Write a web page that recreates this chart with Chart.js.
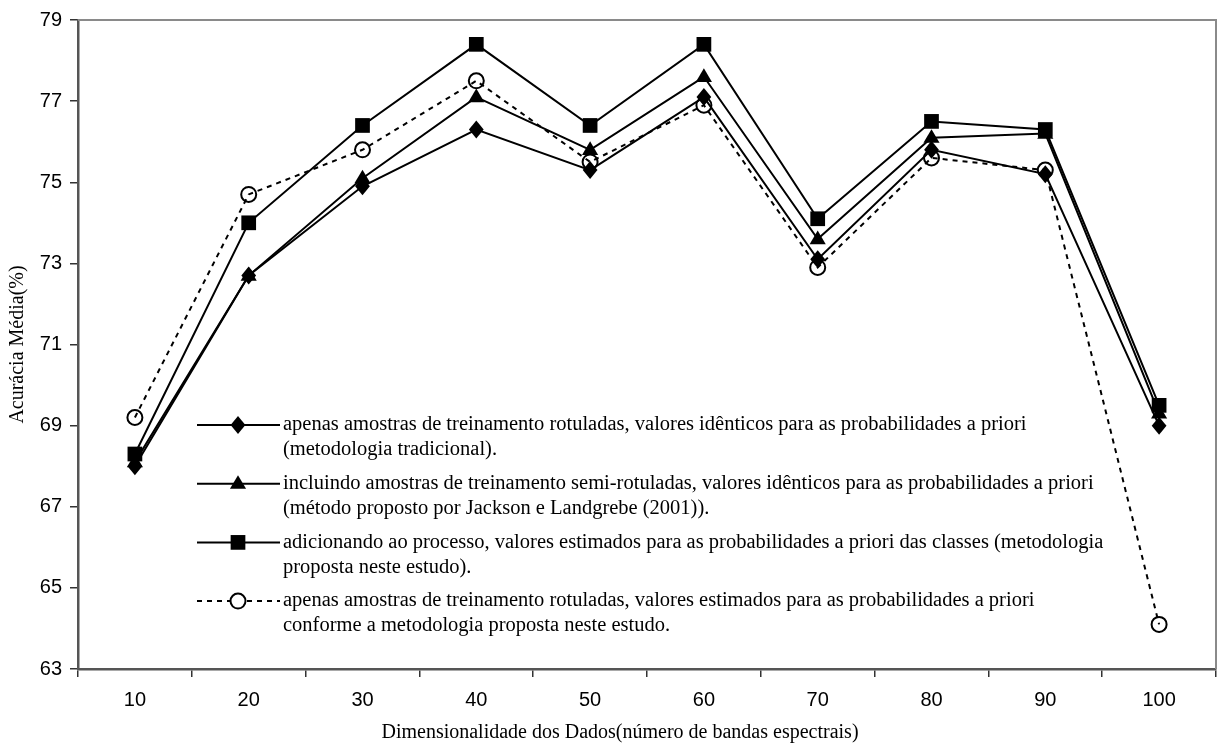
<!DOCTYPE html>
<html>
<head>
<meta charset="utf-8">
<script src="https://cdn.jsdelivr.net/npm/chart.js@4"></script>
<style>
  html, body { margin: 0; padding: 0; background: #fff; }
  #wrap { width: 1225px; height: 748px; }
</style>
</head>
<body>
<div id="wrap"><canvas id="c" width="1225" height="748"></canvas></div>
<script>
const categories = ['10', '20', '30', '40', '50', '60', '70', '80', '90', '100'];
const yTicks = [63, 65, 67, 69, 71, 73, 75, 77, 79];

const tradicional = [68.0, 72.7, 74.9, 76.3, 75.3, 77.1, 73.1, 75.8, 75.2, 69.0];
const semiRotuladas = [68.1, 72.7, 75.1, 77.1, 75.8, 77.6, 73.6, 76.1, 76.2, 69.3];
const estimadosSemi = [68.3, 74.0, 76.4, 78.4, 76.4, 78.4, 74.1, 76.5, 76.3, 69.5];
const estimadosRotuladas = [69.2, 74.7, 75.8, 77.5, 75.5, 76.9, 72.9, 75.6, 75.3, 64.1];

const legendTexts = [
  ['apenas amostras de treinamento rotuladas, valores idênticos para as probabilidades a priori',
   '(metodologia tradicional).'],
  ['incluindo amostras de treinamento semi-rotuladas, valores idênticos para as probabilidades a priori',
   '(método proposto por Jackson e Landgrebe (2001)).'],
  ['adicionando ao processo, valores estimados para as probabilidades a priori das classes (metodologia',
   'proposta neste estudo).'],
  ['apenas amostras de treinamento rotuladas, valores estimados para as probabilidades a priori',
   'conforme a metodologia proposta neste estudo.']
];

const xTitle = 'Dimensionalidade dos Dados(número de bandas espectrais)';
const yTitle = 'Acurácia Média(%)';

const serif = '"Liberation Serif", "Times New Roman", serif';
const sans = '"Liberation Sans", Arial, sans-serif';

function drawMarker(ctx, style, x, y, r, fill) {
  ctx.beginPath();
  if (style === 'rectRot') {
    ctx.moveTo(x - r * 0.82, y); ctx.lineTo(x, y - r); ctx.lineTo(x + r * 0.82, y); ctx.lineTo(x, y + r);
    ctx.closePath(); ctx.fillStyle = '#000'; ctx.fill();
  } else if (style === 'triangle') {
    ctx.moveTo(x, y - r); ctx.lineTo(x + r * 0.95, y + r * 0.6); ctx.lineTo(x - r * 0.95, y + r * 0.6);
    ctx.closePath(); ctx.fillStyle = '#000'; ctx.fill();
  } else if (style === 'rect') {
    const s = r * 0.92;
    ctx.rect(x - s, y - s, 2 * s, 2 * s); ctx.fillStyle = '#000'; ctx.fill();
  } else {
    ctx.arc(x, y, r, 0, Math.PI * 2);
    if (fill) { ctx.fillStyle = fill; ctx.fill(); }
    ctx.lineWidth = 2; ctx.strokeStyle = '#000'; ctx.stroke();
  }
}

const frameAndLegend = {
  id: 'frameAndLegend',
  beforeDatasetsDraw(chart) {
    const { ctx, chartArea: a } = chart;
    ctx.save();
    ctx.strokeStyle = '#8a8a8a';
    ctx.lineWidth = 2;
    ctx.beginPath();
    ctx.moveTo(a.left, a.top); ctx.lineTo(a.right, a.top); ctx.lineTo(a.right, a.bottom);
    ctx.stroke();
    ctx.restore();
  },
  afterDraw(chart) {
    const ctx = chart.ctx;
    const x0 = 197, x1 = 280, xm = 238, tx = 283;
    const y0 = 425, dy = 58.7, lh = 25;
    chart.data.datasets.forEach((ds, i) => {
      const y = y0 + i * dy;
      ctx.save();
      ctx.strokeStyle = '#000';
      ctx.lineWidth = 2;
      ctx.setLineDash(ds.borderDash || []);
      ctx.beginPath(); ctx.moveTo(x0, y); ctx.lineTo(x1, y); ctx.stroke();
      ctx.setLineDash([]);
      drawMarker(ctx, ds.pointStyle, xm, y, ds.pointRadius, '#fff');
      ctx.fillStyle = '#000';
      ctx.font = '20.5px ' + serif;
      ctx.textBaseline = 'middle';
      ctx.textAlign = 'left';
      legendTexts[i].forEach((t, k) => ctx.fillText(t, tx, y + k * lh));
      ctx.restore();
    });
    // x axis title (centred on the whole figure, as in the original)
    ctx.save();
    ctx.fillStyle = '#000';
    ctx.font = '20px ' + serif;
    ctx.textAlign = 'center';
    ctx.textBaseline = 'middle';
    ctx.fillText(xTitle, 620, 733);
    ctx.restore();
  }
};

const markerPlugin = {
  id: 'markers',
  afterDatasetsDraw(chart) {
    const ctx = chart.ctx;
    chart.data.datasets.forEach((ds, i) => {
      const meta = chart.getDatasetMeta(i);
      meta.data.forEach(pt => {
        ctx.save();
        drawMarker(ctx, ds.pointStyle, pt.x, pt.y, ds.pointRadius, null);
        ctx.restore();
      });
    });
  }
};

function mk(label, data, style, radius, dash) {
  return {
    label, data,
    borderColor: '#000', backgroundColor: '#000',
    borderWidth: 2, borderDash: dash || [],
    pointStyle: style, pointRadius: radius,
    pointBorderWidth: 0,
    pointBackgroundColor: 'rgba(0,0,0,0)', pointBorderColor: 'rgba(0,0,0,0)',
    tension: 0, fill: false
  };
}

new Chart(document.getElementById('c'), {
  type: 'line',
  data: {
    labels: categories,
    datasets: [
      mk(legendTexts[0].join(' '), tradicional, 'rectRot', 9),
      mk(legendTexts[1].join(' '), semiRotuladas, 'triangle', 8.5),
      mk(legendTexts[2].join(' '), estimadosSemi, 'rect', 8),
      mk(legendTexts[3].join(' '), estimadosRotuladas, 'circle', 7.5, [5, 5])
    ]
  },
  options: {
    responsive: false,
    animation: false,
    layout: { padding: { top: 17, right: 4, left: 0, bottom: 0 } },
    plugins: { legend: { display: false }, tooltip: { enabled: false } },
    scales: {
      x: {
        type: 'category',
        offset: true,
        grid: { offset: true, drawOnChartArea: false, tickLength: 8, color: '#333', lineWidth: 1.5 },
        border: { color: '#555', width: 2.5 },
        ticks: { color: '#000', padding: 11, font: { family: sans, size: 20 }, maxRotation: 0 },
        title: { display: false },
        afterFit(scale) { scale.height = 79; }
      },
      y: {
        min: 63, max: 79,
        afterBuildTicks(scale) { scale.ticks = yTicks.map(v => ({ value: v })); },
        grid: { drawOnChartArea: false, tickLength: 8, color: '#333', lineWidth: 1.5 },
        border: { color: '#555', width: 2.5 },
        ticks: { color: '#000', padding: 8, font: { family: sans, size: 20 } },
        title: { display: true, text: yTitle, color: '#000', padding: { top: 6, bottom: 0 },
                 font: { family: serif, size: 20 } },
        afterFit(scale) { scale.width = 78; }
      }
    }
  },
  plugins: [frameAndLegend, markerPlugin]
});
</script>
</body>
</html>
